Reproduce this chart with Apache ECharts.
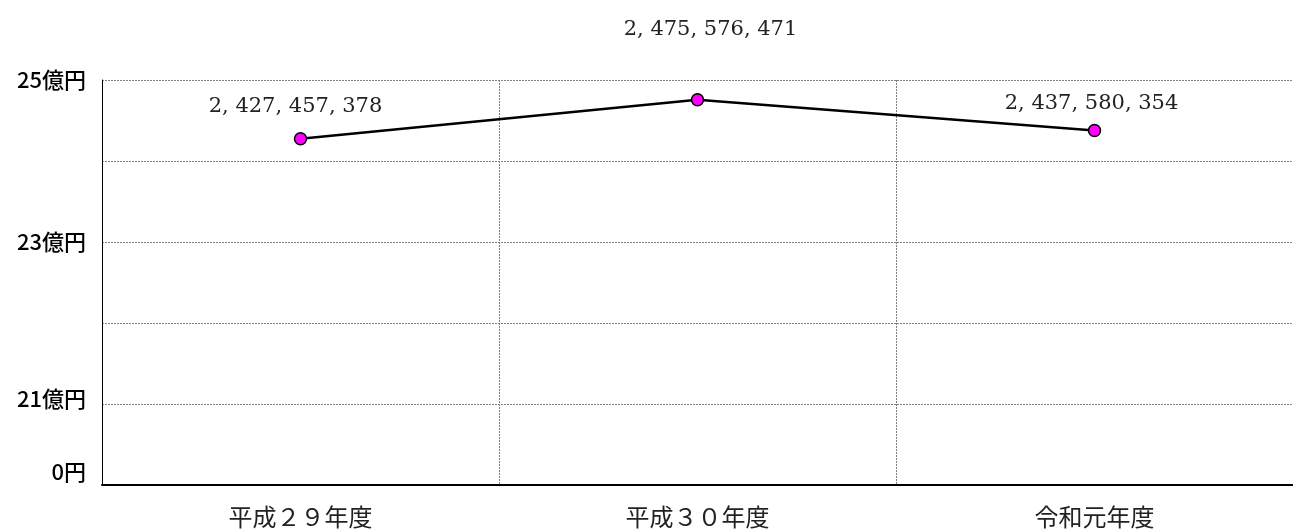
<!DOCTYPE html>
<html>
<head>
<meta charset="utf-8">
<script src="https://cdn.jsdelivr.net/npm/echarts@6/dist/echarts.min.js"></script>
<style>
  html, body { margin: 0; padding: 0; background: #fff; }
  #chart { width: 1293px; height: 532px; }
</style>
</head>
<body>
<div id="chart"></div>
<script>
// Fiscal years shown on the x axis
const categories = ['平成２９年度', '平成３０年度', '令和元年度'];
// Annual totals in yen
const totals = [2427457378, 2475576471, 2437580354];
// Y axis: the scale is broken below 21億円, so the bottom tick reads 0円
const yTickValues = [2000000000, 2100000000, 2200000000, 2300000000, 2400000000, 2500000000];
const yTickLabels = ['0円', '21億円', '', '23億円', '', '25億円'];

// Per-point label placement (pixel offsets from the marker)
const labelOffsets = [[-5, -10], [13, -48], [-3, -5]];

function withSpacedCommas(v) {
  return v.toLocaleString('en-US').replace(/,/g, ', ');
}

const jpFont = '"Noto Sans CJK JP", sans-serif';
const chart = echarts.init(document.getElementById('chart'), null, { renderer: 'canvas' });

chart.setOption({
  animation: false,
  backgroundColor: '#ffffff',
  grid: { left: 102, right: 0, top: 80, bottom: 47, containLabel: false },
  xAxis: {
    type: 'category',
    data: categories,
    boundaryGap: true,
    axisLine: { show: true, lineStyle: { color: '#000', width: 2 } },
    axisTick: { show: false },
    splitLine: { show: true, lineStyle: { color: '#808080', width: 1, type: [2, 1] } },
    axisLabel: {
      margin: 20,
      fontSize: 24,
      color: '#222',
      fontFamily: jpFont
    }
  },
  yAxis: {
    type: 'value',
    min: yTickValues[0],
    max: yTickValues[yTickValues.length - 1],
    interval: yTickValues[1] - yTickValues[0],
    axisLine: { show: true, lineStyle: { color: '#000', width: 1 } },
    axisTick: { show: false },
    splitLine: { show: true, lineStyle: { color: '#808080', width: 1, type: [2, 1] } },
    axisLabel: {
      margin: 16,
      fontSize: 22,
      fontWeight: 500,
      color: '#000',
      fontFamily: jpFont,
      formatter: function (v) {
        const i = yTickValues.indexOf(v);
        const txt = i >= 0 ? yTickLabels[i] : '';
        if (i === 0) return '{low|' + txt + '}';
        if (i === 1) return '{mid|' + txt + '}';
        return txt;
      },
      rich: {
        low: { fontSize: 22, fontWeight: 500, fontFamily: jpFont, color: '#000', padding: [0, 0, 26, 0] },
        mid: { fontSize: 22, fontWeight: 500, fontFamily: jpFont, color: '#000', padding: [0, 0, 10, 0] }
      }
    }
  },
  series: [{
    type: 'line',
    data: totals.map(function (v, i) {
      return { value: v, label: { offset: labelOffsets[i] } };
    }),
    symbol: 'circle',
    symbolSize: 12,
    itemStyle: { color: '#FF00FF', borderColor: '#000', borderWidth: 1.5 },
    lineStyle: { color: '#000', width: 2.5 },
    label: {
      show: true,
      position: 'top',
      distance: 5,
      fontSize: 21,
      color: '#222',
      fontFamily: '"DejaVu Serif", serif',
      formatter: function (p) { return withSpacedCommas(p.value); }
    },
    emphasis: { disabled: true }
  }]
});
</script>
</body>
</html>
